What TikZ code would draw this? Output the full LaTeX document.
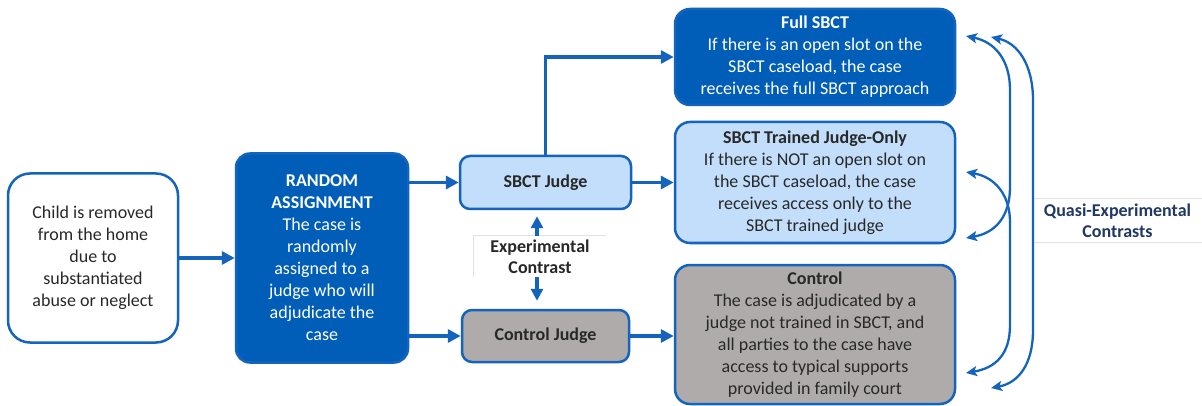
\documentclass[tikz,border=0pt]{standalone}
\usepackage{fontspec}
\setmainfont{Carlito}
\usetikzlibrary{arrows.meta}
\definecolor{darkblue}{RGB}{0,94,184}
\definecolor{lineblue}{RGB}{20,100,190}
\definecolor{lightblue}{RGB}{194,222,250}
\definecolor{grayfill}{RGB}{175,171,171}
\definecolor{textdark}{RGB}{40,40,40}
\definecolor{navy}{RGB}{32,56,100}
\definecolor{faint}{RGB}{225,225,225}
\begin{document}
\begin{tikzpicture}[x=1pt,y=-1pt,
  box/.style={draw=lineblue, line width=2.5pt, rounded corners=14pt, align=center,
    inner sep=0pt, font=\fontsize{18}{22}\selectfont, text=textdark},
  arr/.style={draw=lineblue, line width=3.3pt, -{Triangle[length=13pt,width=13pt]}},
  varr/.style={draw=lineblue, line width=3.3pt, -{Triangle[length=12pt,width=12pt]}},
  carr/.style={draw=lineblue, line width=2.3pt,
    {Stealth[length=11pt,width=10pt,inset=2.5pt]}-{Stealth[length=11pt,width=10pt,inset=2.5pt]}},
  faintline/.style={draw=faint, line width=0.8pt},
  lbl/.style={align=center, inner sep=0pt, font=\fontsize{18}{21}\selectfont\bfseries}
]
\useasboundingbox (0,0) rectangle (1202,406);
\fill[white] (0,0) rectangle (1202,406);

% boxes
\node[box, fill=white, rounded corners=22pt, minimum width=170pt, minimum height=169pt]
  (child) at (93,258) {Child is removed\\from the home\\due to\\substantiated\\abuse or neglect};
\node[box, fill=darkblue, text=white, minimum width=172pt, minimum height=209pt]
  (rand) at (322,258) {\textbf{RANDOM}\\\textbf{ASSIGNMENT}\\The case is\\randomly\\assigned to a\\judge who will\\adjudicate the\\case};
\node[box, fill=lightblue, rounded corners=10pt, minimum width=171pt, minimum height=53pt]
  (sbj) at (545.5,182.5) {\textbf{SBCT Judge}};
\node[box, fill=grayfill, rounded corners=10pt, minimum width=167pt, minimum height=52pt]
  (cj) at (545.5,336) {\textbf{Control Judge}};
\node[box, fill=darkblue, text=white, rounded corners=15pt, minimum width=280pt, minimum height=96pt]
  (full) at (815,57) {\textbf{Full SBCT}\\If there is an open slot on the\\SBCT caseload, the case\\receives the full SBCT approach};
\node[box, fill=lightblue, rounded corners=15pt, minimum width=280pt, minimum height=121pt]
  (trained) at (815,182.5) {\textbf{SBCT Trained Judge-Only}\\If there is NOT an open slot on\\the SBCT caseload, the case\\receives access only to the\\SBCT trained judge};
\node[box, fill=grayfill, rounded corners=15pt, minimum width=280pt, minimum height=139pt]
  (ctrl) at (815,334.5) {\textbf{Control}\\The case is adjudicated by a\\judge not trained in SBCT, and\\all parties to the case have\\access to typical supports\\provided in family court};

% labels
\node[lbl, text=textdark, minimum width=132pt, minimum height=41pt]
  (exp) at (540,256.5) {Experimental\\Contrast};
\draw[faintline] (exp.south west) -- (exp.north west) -- (exp.north east);
\node[lbl, text=navy, minimum width=169pt, minimum height=43pt]
  (quasi) at (1117.5,220.5) {Quasi-Experimental\\Contrasts};
\draw[faintline] (quasi.north west) -- (quasi.north east);
\draw[faintline] (quasi.south west) -- (quasi.south east);

% straight connectors
\draw[arr] (child.east) -- (rand.west);
\draw[arr] (rand.east |- sbj) -- (sbj.west);
\draw[arr] (rand.east |- cj) -- (cj.west);
\draw[arr] (sbj.north) |- (full.west);
\draw[arr] (sbj.east) -- (sbj.east -| trained.west);
\draw[arr] (cj.east) -- (cj.east -| ctrl.west);
\draw[varr, shorten >=6pt] ([xshift=-3pt]exp.north) -- ([xshift=-3pt]exp.north |- sbj.south);
\draw[varr, shorten >=8pt] ([xshift=-3pt]exp.south) -- ([xshift=-3pt]exp.south |- cj.north);

% curved contrasts
\coordinate (a1) at (966,36);  \coordinate (a2) at (966,238);
\coordinate (b1) at (991,37);  \coordinate (b2) at (991,388);
\coordinate (c1) at (966,172); \coordinate (c2) at (966,373);
\draw[carr] (a1) .. controls (995,42) and (1010,60) .. (1010,90) -- (1010,187)
  .. controls (1010,217) and (995,233) .. (a2);
\draw[carr] (b1) .. controls (1018,43) and (1033,65) .. (1033,100) -- (1033,330)
  .. controls (1033,365) and (1018,383) .. (b2);
\draw[carr] (c1) .. controls (995,177) and (1010,195) .. (1010,222) -- (1010,325)
  .. controls (1010,355) and (995,368) .. (c2);
\end{tikzpicture}
\end{document}
